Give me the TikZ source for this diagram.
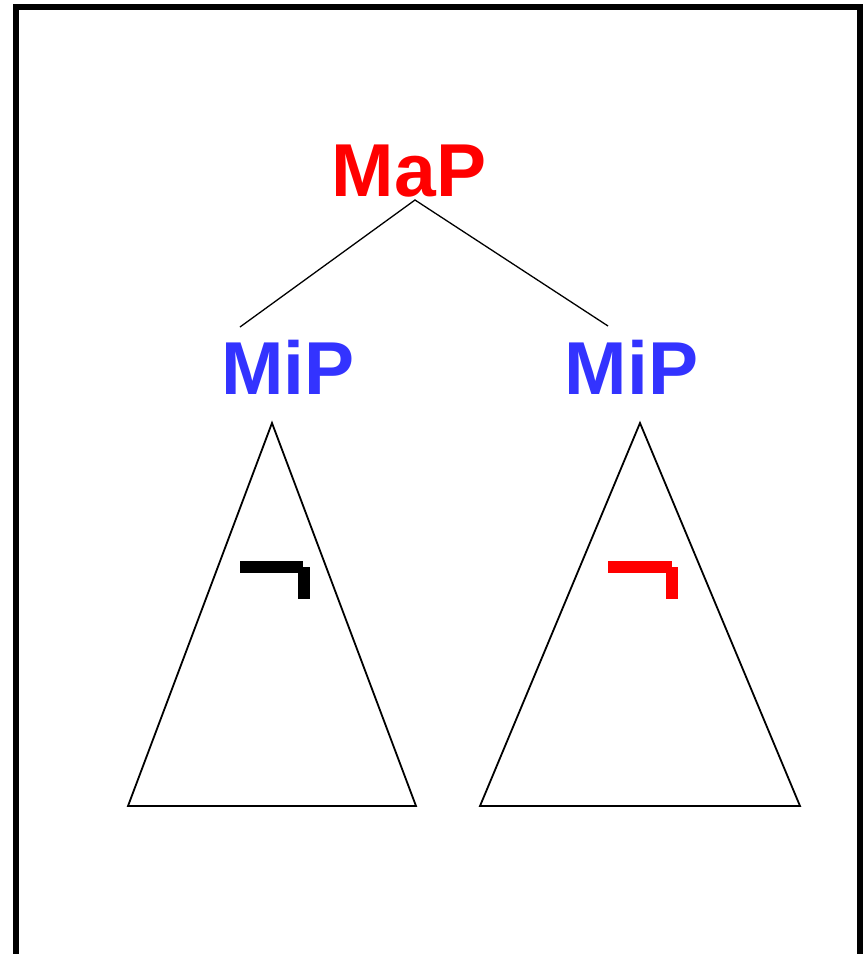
\documentclass[tikz,border=0pt]{standalone}
\usepackage{fontspec}
\setmainfont{Liberation Sans}
\definecolor{mapred}{RGB}{255,0,0}
\definecolor{mipblue}{RGB}{51,51,255}
\begin{document}
\begin{tikzpicture}[x=1pt,y=-1pt,
  label text/.style={font=\fontsize{75}{80}\selectfont\bfseries, inner sep=0pt, anchor=base},
  branch/.style={line width=1.3pt, black},
  tri/.style={line width=1.8pt, black, line join=miter},
  hook/.style={fill=#1, draw=none}]
\useasboundingbox (0,0) rectangle (863,954);
\clip (0,0) rectangle (863,954);
% frame
\draw[line width=6pt] (16,1000) -- (16,7) -- (859.5,7) -- (859.5,1000);
% labels
\node[label text, text=mapred] (map) at (409,196) {MaP};
\node[label text, text=mipblue] (mipL) at (288,394) {MiP};
\node[label text, text=mipblue] (mipR) at (631.5,394) {MiP};
% branches
\coordinate (top) at (415,200);
\coordinate (leftEnd) at (240,327);
\coordinate (rightEnd) at (608,326);
\draw[branch] (leftEnd) -- (top) -- (rightEnd);
% triangles
\coordinate (tLa) at (272,423);
\coordinate (tLb) at (128,806);
\coordinate (tLc) at (416,806);
\coordinate (tRa) at (640,423);
\coordinate (tRb) at (480,806);
\coordinate (tRc) at (800,806);
\draw[tri] (tLa) -- (tLb) -- (tLc) -- cycle;
\draw[tri] (tRa) -- (tRb) -- (tRc) -- cycle;
% hooks
\fill[hook=black] (240,561) rectangle (303,573);
\fill[hook=black] (298,567) rectangle (310,599);
\fill[hook=mapred] (608,561) rectangle (672,573);
\fill[hook=mapred] (666,567) rectangle (678,599);
\end{tikzpicture}
\end{document}
